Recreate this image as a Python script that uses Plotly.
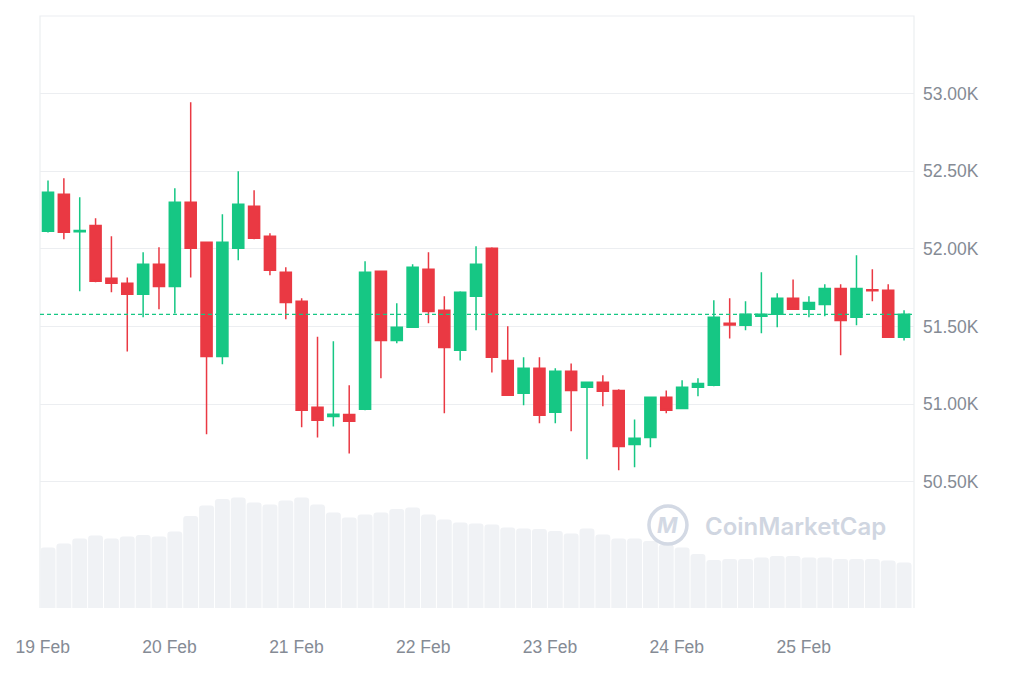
import pandas as pd
import plotly.graph_objects as go

# 3-hour BTC candles, 19-25 Feb 2024
open_ = [52113, 52351, 52110, 52151, 51810, 51778, 51707, 51900, 51758, 52300,
         52042, 51307, 52003, 52274, 52081, 51849, 51662, 50979, 50920, 50933,
         50966, 51855, 51410, 51494, 51868, 51604, 51346, 51694, 52003, 51281,
         51069, 51230, 50947, 51211, 51108, 51140, 51088, 50740, 50785, 51043,
         50972, 51108, 51121, 51520, 51507, 51565, 51578, 51681, 51610, 51642,
         51745, 51559, 51736, 51733, 51430]
high = [52441, 52454, 52332, 52197, 52081, 51816, 51978, 52010, 52390, 52944,
        52042, 52222, 52499, 52377, 52100, 51881, 51681, 51433, 51404, 51121,
        51920, 51860, 51649, 51900, 51978, 51694, 51726, 52016, 52010, 51501,
        51301, 51301, 51230, 51262, 51140, 51185, 51095, 50900, 51043, 51088,
        51153, 51166, 51668, 51681, 51662, 51849, 51713, 51803, 51694, 51771,
        51771, 51958, 51868, 51771, 51604]
low = [52105, 52061, 51726, 51784, 51720, 51339, 51559, 51610, 51584, 51816,
       50805, 51256, 51926, 52061, 51829, 51546, 50850, 50785, 50856, 50682,
       50960, 51166, 51391, 51490, 51520, 50940, 51281, 51475, 51204, 51056,
       50992, 50876, 50876, 50824, 50644, 50985, 50573, 50592, 50721, 50940,
       50970, 51050, 51115, 51423, 51475, 51456, 51494, 51610, 51559, 51565,
       51314, 51507, 51662, 51430, 51410]
close = [52364, 52106, 52118, 51791, 51778, 51707, 51900, 51758, 52300, 52003,
         51307, 52042, 52287, 52068, 51862, 51655, 50960, 50895, 50935, 50889,
         51849, 51410, 51494, 51881, 51597, 51365, 51720, 51900, 51301, 51056,
         51230, 50927, 51211, 51088, 51140, 51082, 50727, 50779, 51043, 50960,
         51108, 51133, 51559, 51510, 51578, 51578, 51681, 51610, 51655, 51745,
         51539, 51745, 51730, 51430, 51578]
# relative trading volume
volume = [1.21, 1.29, 1.39, 1.45, 1.39, 1.43, 1.46, 1.43, 1.53, 1.84,
          2.05, 2.18, 2.21, 2.11, 2.07, 2.15, 2.21, 2.07, 1.91, 1.81,
          1.87, 1.91, 1.98, 2.01, 1.87, 1.77, 1.71, 1.69, 1.67, 1.61,
          1.59, 1.58, 1.54, 1.49, 1.59, 1.47, 1.39, 1.39, 1.34, 1.27,
          1.21, 1.08, 0.96, 0.98, 0.98, 1.01, 1.04, 1.04, 1.01, 1.01,
          0.98, 0.98, 0.98, 0.95, 0.91]

last_price = 51578
price_ticks = [50500, 51000, 51500, 52000, 52500, 53000, 53500]
price_labels = ["50.50K", "51.00K", "51.50K", "52.00K", "52.50K", "53.00K", ""]

times = pd.date_range("2024-02-19 01:00", periods=len(close), freq="3h")

GREEN = "#16c784"
RED = "#ea3943"
GRID = "#eceef1"
TEXT = "#858b95"
MARK = "#d3d9e4"
FONT = "Liberation Sans"

fig = go.Figure()

# volume underneath the candles
fig.add_trace(go.Bar(
    x=times, y=volume, yaxis="y2",
    marker=dict(color="#f0f2f5", line=dict(width=0), cornerradius=3),
    hoverinfo="skip", showlegend=False,
))

fig.add_trace(go.Candlestick(
    x=times, open=open_, high=high, low=low, close=close,
    increasing=dict(line=dict(color=GREEN, width=1.5), fillcolor=GREEN),
    decreasing=dict(line=dict(color=RED, width=1.5), fillcolor=RED),
    showlegend=False,
))

# last price line
fig.add_shape(type="line", xref="paper", x0=0, x1=1, y0=last_price, y1=last_price,
              line=dict(color=GREEN, width=1.2, dash="4px,3px"))

# frame: left, top, right
fig.add_shape(type="path", xref="paper", yref="paper", path="M0,0 L0,1 L1,1 L1,0",
              line=dict(color=GRID, width=1.2), layer="below")

# watermark
fig.add_shape(type="circle", xref="paper", yref="paper",
              xsizemode="pixel", ysizemode="pixel",
              xanchor=0.7185, yanchor=0.140, x0=-19, x1=19, y0=-19, y1=19,
              line=dict(color=MARK, width=3.5))
fig.add_annotation(xref="paper", yref="paper", x=0.7185, y=0.140,
                   xanchor="center", yanchor="middle", text="<i>M</i>",
                   showarrow=False, font=dict(family="Inter", size=22, color=MARK, weight=700))
fig.add_annotation(xref="paper", yref="paper", x=0.7586, y=0.137,
                   xanchor="left", yanchor="middle",
                   text="CoinMarketCap", showarrow=False,
                   font=dict(family="Inter", size=24, color="#d0d6e1", weight=600))

fig.update_layout(
    width=1024, height=683,
    margin=dict(l=32, r=118, t=8, b=83),
    paper_bgcolor="white", plot_bgcolor="white",
    font=dict(family=FONT, size=17.5, color=TEXT),
    boxgap=0.3, boxgroupgap=0, bargap=0.06,
    xaxis=dict(
        type="date",
        range=["2024-02-18 23:29", "2024-02-25 20:53"],
        rangeslider=dict(visible=False),
        showgrid=False, zeroline=False, showline=False,
        tickformat="%-d %b", dtick=86400000, tick0="2024-02-19",
        ticks="", ticklabelstandoff=26,
        tickfont=dict(family=FONT, size=17.5, color=TEXT),
    ),
    yaxis=dict(
        side="right",
        range=[49686, 53500],
        tickvals=price_ticks, ticktext=price_labels,
        showgrid=True, gridcolor=GRID, gridwidth=1,
        zeroline=False, showline=False, ticks="",
        ticklabelstandoff=8,
        tickfont=dict(family=FONT, size=17.5, color=TEXT),
    ),
    yaxis2=dict(
        overlaying="y", range=[0, 11.84], visible=False, fixedrange=True,
    ),
)

fig.write_html("out.html")
